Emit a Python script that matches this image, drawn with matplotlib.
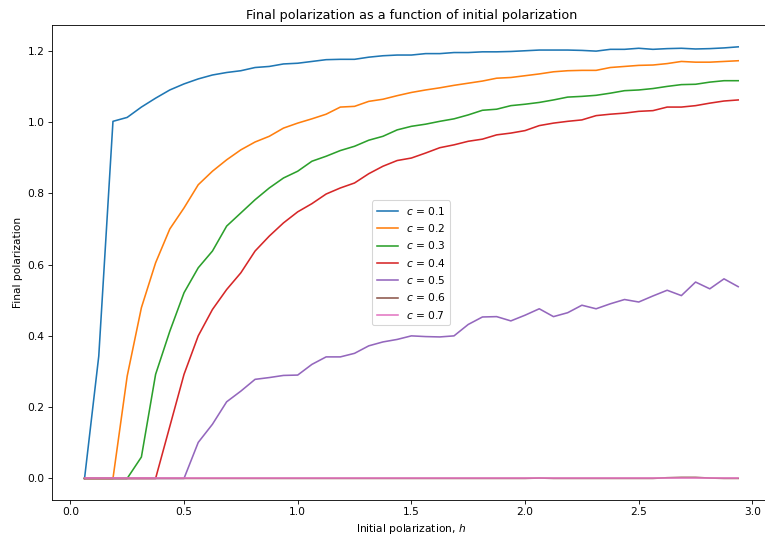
import numpy as np
import matplotlib
matplotlib.use("Agg")
import matplotlib.pyplot as plt

# Initial polarization values h (step 0.0625)
h = [0.0625 * k for k in range(1, 48)]

c_labels = ["0.1", "0.2", "0.3", "0.4", "0.5", "0.6", "0.7"]

c01 = [0.0, 0.343, 1.002, 1.013, 1.042, 1.067, 1.090, 1.107, 1.121, 1.132,
       1.139, 1.144, 1.153, 1.156, 1.163, 1.165, 1.170, 1.175, 1.176, 1.176,
       1.182, 1.186, 1.188, 1.188, 1.192, 1.192, 1.195, 1.195, 1.197, 1.197,
       1.198, 1.200, 1.202, 1.202, 1.202, 1.201, 1.199, 1.204, 1.204, 1.207,
       1.204, 1.206, 1.207, 1.205, 1.206, 1.208, 1.211]

c02 = [0.0, 0.0, 0.0, 0.287, 0.479, 0.605, 0.700, 0.759, 0.824, 0.862,
       0.894, 0.922, 0.944, 0.960, 0.983, 0.997, 1.009, 1.022, 1.042, 1.044,
       1.058, 1.064, 1.074, 1.083, 1.090, 1.096, 1.103, 1.109, 1.115, 1.123,
       1.125, 1.130, 1.135, 1.141, 1.144, 1.145, 1.145, 1.153, 1.156, 1.159,
       1.160, 1.164, 1.170, 1.168, 1.168, 1.170, 1.172]

c03 = [0.0, 0.0, 0.0, 0.0, 0.060, 0.292, 0.413, 0.521, 0.591, 0.638,
       0.708, 0.745, 0.782, 0.815, 0.843, 0.862, 0.890, 0.904, 0.920, 0.932,
       0.949, 0.960, 0.978, 0.988, 0.994, 1.002, 1.009, 1.020, 1.033, 1.036,
       1.046, 1.050, 1.055, 1.062, 1.070, 1.072, 1.075, 1.081, 1.088, 1.090,
       1.094, 1.100, 1.105, 1.106, 1.112, 1.116, 1.116]

c04 = [0.0, 0.0, 0.0, 0.0, 0.0, 0.0, 0.146, 0.292, 0.400, 0.474,
       0.530, 0.577, 0.638, 0.680, 0.717, 0.748, 0.771, 0.798, 0.815, 0.829,
       0.855, 0.876, 0.892, 0.899, 0.913, 0.928, 0.936, 0.946, 0.952, 0.964,
       0.969, 0.976, 0.990, 0.997, 1.002, 1.006, 1.018, 1.022, 1.025, 1.030,
       1.032, 1.042, 1.042, 1.046, 1.053, 1.059, 1.062]

c05 = [0.0, 0.0, 0.0, 0.0, 0.0, 0.0, 0.0, 0.0, 0.101, 0.152,
       0.215, 0.245, 0.278, 0.283, 0.289, 0.290, 0.320, 0.341, 0.341, 0.351,
       0.372, 0.383, 0.390, 0.400, 0.398, 0.397, 0.400, 0.432, 0.453, 0.454,
       0.442, 0.458, 0.476, 0.454, 0.465, 0.486, 0.476, 0.490, 0.502, 0.495,
       0.512, 0.528, 0.513, 0.551, 0.532, 0.560, 0.538]

c06 = [0.0] * 32 + [0.001, 0.0, 0.0, 0.0, 0.0, 0.0, 0.0, 0.0,
                    0.0, 0.002, 0.003, 0.003, 0.001, 0.0, 0.0]

c07 = [0.0] * 47

series = [c01, c02, c03, c04, c05, c06, c07]

fig = plt.figure(figsize=(10, 7.02), dpi=76.5)
ax = fig.add_axes([0.0678, 0.0689, 0.9399, 0.884])

for lab, ys in zip(c_labels, series):
    ax.plot(h, ys, label=f"$c$ = {lab}")

ax.set_title("Final polarization as a function of initial polarization")
ax.set_xlabel("Initial polarization, $h$")
ax.set_ylabel("Final polarization")
ax.legend(loc="center")
# the right edge of the axes lies past the picture's edge, as in the reference
ax.spines["right"].set_visible(False)

fig.savefig("out.png", dpi=76.5)
